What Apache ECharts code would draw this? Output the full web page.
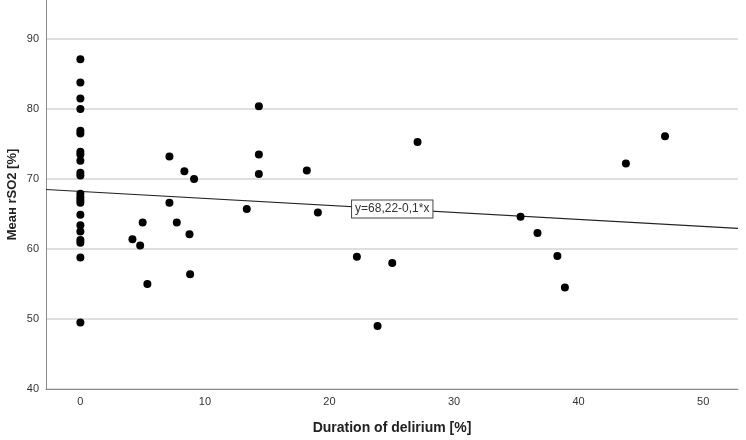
<!DOCTYPE html>
<html><head><meta charset="utf-8">
<script src="https://cdn.jsdelivr.net/npm/echarts@6/dist/echarts.min.js"></script>
<style>html,body{margin:0;padding:0;background:#fff}#c{width:746px;height:440px}</style>
</head><body><div id="c"></div>
<script>
// Duration of delirium [%]
const durationX = [
  0,0,0,0,0,0,0,0,0,0,0,0,0,0,0,0,0,0,0,0,0,0,
  7.15,8.35,9.13,7.15,5.0,7.74,8.76,4.18,4.8,5.38,8.81,
  14.33,14.33,14.33,18.18,27.07,13.36,19.07,
  22.2,25.04,23.86,
  46.94,43.8,35.34,36.7,38.3,38.9
];
// Mean rSO2 [%]
const meanRSO2 = [
  87.1,83.8,81.5,80.0,76.9,76.5,73.9,73.5,72.6,70.9,70.5,67.9,67.4,67.0,66.6,64.9,63.4,62.5,61.3,60.9,58.8,49.5,
  73.2,71.1,70.0,66.6,63.8,63.8,62.1,61.4,60.5,55.0,56.4,
  80.4,73.5,70.7,71.2,75.3,65.7,65.2,
  58.9,58.0,49.0,
  76.1,72.2,64.6,62.3,59.0,54.5
];
const xTicks = [0,10,20,30,40,50];
const fitIntercept = 68.22;
const fitSlope = -0.1;
const fitLabel = 'y=68,22-0,1*x';
const xRange = [-2.76, 52.8];
const yRange = [40, 95.57];

const points = durationX.map((x,i)=>[x, meanRSO2[i]]);
const fitLine = xRange.map(x=>[x, fitIntercept + fitSlope*x]);
const labelX = 25.04;

const chart = echarts.init(document.getElementById('c'), null, {renderer:'canvas'});
chart.setOption({
  animation:false,
  textStyle:{fontFamily:'Liberation Sans, Arial, sans-serif'},
  grid:{left:46, right:8, top:0, bottom:51, containLabel:false, outerBoundsMode:'none'},
  xAxis:{
    type:'value', min:xRange[0], max:xRange[1],
    name:'Duration of delirium [%]', nameLocation:'middle', nameGap:32, nameMoveOverlap:false,
    nameTextStyle:{fontSize:14, fontWeight:'bold', color:'#222'},
    axisLine:{show:true, onZero:false, lineStyle:{color:'#8a8a8a', width:1}},
    axisTick:{show:false, customValues:xTicks},
    axisLabel:{customValues:xTicks, color:'#333', fontSize:11, margin:7},
    splitLine:{show:false}
  },
  yAxis:{
    type:'value', min:yRange[0], max:yRange[1], interval:10,
    name:'Меан rSO2 [%]', nameLocation:'middle', nameGap:27, nameMoveOverlap:false,
    nameTextStyle:{fontSize:13, fontWeight:'bold', color:'#222'},
    axisLine:{show:true, onZero:false, lineStyle:{color:'#8a8a8a', width:1}},
    axisTick:{show:false},
    axisLabel:{color:'#333', fontSize:11, margin:7, showMaxLabel:false},
    splitLine:{show:true, showMaxLine:false, lineStyle:{color:'#d4d4d4', width:1.5}}
  },
  series:[
    {
      type:'line', data:fitLine, symbol:'none', silent:true,
      lineStyle:{color:'#222', width:1.2}, z:2,
      markPoint:{
        symbol:'rect', symbolSize:0,
        data:[{coord:[labelX, fitIntercept + fitSlope*labelX]}],
        label:{show:true, position:'inside', formatter:fitLabel,
          color:'#333', fontSize:12, backgroundColor:'#fff',
          borderColor:'#444', borderWidth:1, padding:[3,3,2,3]}
      }
    },
    {
      type:'scatter', data:points, symbol:'circle', symbolSize:8,
      itemStyle:{color:'#000', opacity:1}, z:3
    }
  ]
});
</script></body></html>
